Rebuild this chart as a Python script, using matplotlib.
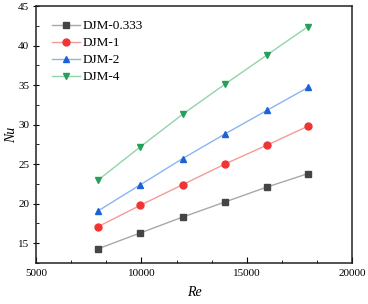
import matplotlib
matplotlib.use("Agg")
import matplotlib.pyplot as plt
from matplotlib.ticker import MultipleLocator

re_vals = [7950, 9950, 11950, 13950, 15950, 17900]
nu_0333 = [14.3, 16.3, 18.3, 20.2, 22.1, 23.8]
nu_1 = [17.1, 19.8, 22.4, 25.0, 27.4, 29.8]
nu_2 = [19.1, 22.4, 25.7, 28.8, 31.8, 34.7]
nu_4 = [23.0, 27.2, 31.3, 35.1, 38.8, 42.4]
labels = ["DJM-0.333", "DJM-1", "DJM-2", "DJM-4"]

plt.rcParams['font.family'] = ['Liberation Serif', 'DejaVu Serif']
fig = plt.figure(figsize=(3.68, 3.04), dpi=100)
ax = fig.add_axes([0.098, 0.135, 0.859, 0.845])

series = [nu_0333, nu_1, nu_2, nu_4]
mcol = ['#454545', '#f03434', '#1a62d6', '#25a05a']
lcol = ['#a8a8a8', '#f59a9a', '#8ab4f2', '#92d4aa']
markers = ['s', 'o', '^', 'v']
msizes = [4.0, 5.0, 5.0, 5.0]
for s, mc, lc, m, ms, lab in zip(series, mcol, lcol, markers, msizes, labels):
    ax.plot(re_vals, s, color=lc, lw=1.0, marker=m, markersize=ms,
            markerfacecolor=mc, markeredgecolor=mc, label=lab)

ax.set_xlim(5000, 20000)
ax.set_ylim(12.5, 45)
ax.xaxis.set_major_locator(MultipleLocator(5000))
ax.xaxis.set_minor_locator(MultipleLocator(5000 / 3))
ax.set_yticks([15, 20, 25, 30, 35, 40, 45])
ax.yaxis.set_minor_locator(MultipleLocator(2.5))
ax.tick_params(axis='x', which='major', direction='in', length=4, labelsize=8, pad=4)
ax.tick_params(axis='x', which='minor', direction='in', length=2)
ax.tick_params(axis='y', which='major', direction='inout', length=4, labelsize=8, pad=3)
ax.tick_params(axis='y', which='minor', direction='in', length=2)
for sp in ax.spines.values():
    sp.set_linewidth(1.1)
    sp.set_color('#222222')
ax.set_xlabel('Re', style='italic', fontsize=10, labelpad=6)
ax.set_ylabel('Nu', style='italic', fontsize=10)
ax.yaxis.set_label_coords(-0.058, 0.5)
ax.legend(loc='upper left', frameon=False, fontsize=9.5, handlelength=2.15,
          borderpad=0, borderaxespad=0, labelspacing=0.36, handletextpad=0.15,
          bbox_to_anchor=(0.05, 0.945))
fig.savefig('out.png', dpi=100)
